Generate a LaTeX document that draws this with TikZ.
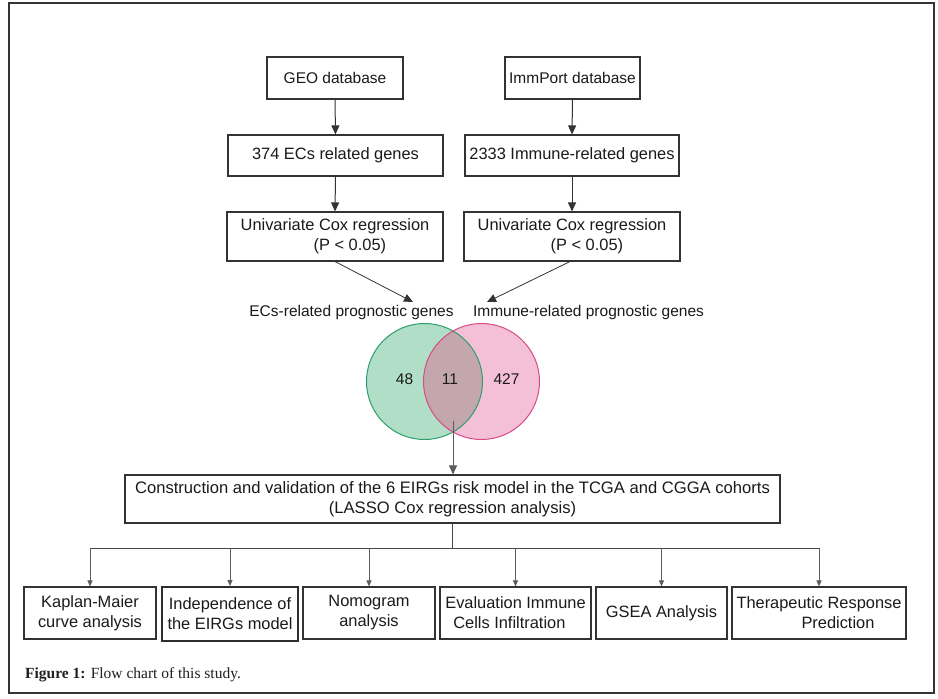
\documentclass[tikz,border=0pt]{standalone}
\usepackage{fontspec}
\setmainfont{Liberation Sans}
\newfontfamily\capfont{Liberation Serif}
\usetikzlibrary{arrows.meta}
\definecolor{linec}{HTML}{333333}
\definecolor{txtc}{HTML}{1A1A1A}
\definecolor{greenfill}{HTML}{B0DEC6}
\definecolor{pinkfill}{HTML}{F4C0D8}
\definecolor{overlapfill}{HTML}{C3A7AD}
\definecolor{greenline}{HTML}{2E9E6E}
\definecolor{pinkline}{HTML}{D64B88}
\definecolor{capc}{HTML}{231F20}
\tikzset{
  flowbox/.style={draw=linec, line width=1.1pt, inner sep=0pt, text=txtc,
    font=\fontsize{16.4}{20}\selectfont, align=center},
  smallfont/.style={font=\fontsize{15.5}{20}\selectfont},
  lbl/.style={inner sep=0pt, text=txtc, font=\fontsize{15.5}{20}\selectfont},
  bigarrow/.style={draw=linec, line width=1pt, -{Triangle[width=8pt,length=9pt]}},
  smallarrow/.style={draw=linec!80, line width=1pt, -{Triangle[width=5pt,length=6pt]}},
  plainline/.style={draw=linec!90, line width=1pt},
}
\begin{document}
\begin{tikzpicture}[x=1pt,y=-1pt]
\useasboundingbox (0,0) rectangle (938,699);
\fill[white] (0,0) rectangle (938,699);
% outer frame
\draw[linec, line width=1.5pt] (9,3) rectangle (934,693);

% top boxes
\node[flowbox, smallfont, minimum width=136pt, minimum height=42pt] (geo) at (335,78) {GEO database};
\node[flowbox, minimum width=215pt, minimum height=41pt] (ecs) at (335.5,155.5) {374 ECs related genes};
\node[flowbox, minimum width=216pt, minimum height=49pt, align=left] (univL) at (335,236.5)
  {Univariate Cox regression\\\hspace*{73pt}(P < 0.05)};
\node[flowbox, smallfont, minimum width=135pt, minimum height=42pt] (imm) at (572.5,78) {ImmPort database};
\node[flowbox, minimum width=214pt, minimum height=41pt] (imm2333) at (572,155.5) {2333 Immune-related genes};
\node[flowbox, minimum width=216pt, minimum height=49pt, align=left] (univR) at (572,236.5)
  {Univariate Cox regression\\\hspace*{73pt}(P < 0.05)};

\draw[bigarrow] (geo.south) -- (ecs.north);
\draw[bigarrow] (ecs.south) -- (univL.north);
\draw[bigarrow] (imm.south) -- (imm2333.north);
\draw[bigarrow] (imm2333.south) -- (univR.north);

% labels
\node[lbl] (ecsl) at (351.5,312) {ECs-related prognostic genes};
\node[lbl] (imml) at (588.5,312) {Immune-related prognostic genes};
\coordinate (tipL) at (413,302);
\coordinate (tipR) at (487,302);
\draw[bigarrow, line width=0.8pt] (univL.south) -- (tipL);
\draw[bigarrow, line width=0.8pt] (univR.south -| 570,0) -- (tipR);

% Venn
\coordinate (gc) at (424.5,381.5);
\coordinate (pc) at (481.5,381.5);
\fill[greenfill] (gc) circle[radius=58pt];
\fill[pinkfill] (pc) circle[radius=58pt];
\begin{scope}
  \clip (gc) circle[radius=58pt];
  \fill[overlapfill] (pc) circle[radius=58pt];
\end{scope}
\draw[greenline, line width=1pt] (gc) circle[radius=58pt];
\draw[pinkline, line width=1pt] (pc) circle[radius=58pt];
\node[lbl] (n48) at (404.5,379) {48};
\node[lbl] (n11) at (450,379) {11};
\node[lbl] (n427) at (506.5,379) {427};
\coordinate (vstart) at (453,421);

% main box
\node[flowbox, font=\fontsize{16.6}{20}\selectfont, minimum width=655pt, minimum height=48pt] (main) at (452.5,499)
  {Construction and validation of the 6 EIRGs risk model in the TCGA and CGGA cohorts\\(LASSO Cox regression analysis)};
\draw[bigarrow, draw=linec!80] (vstart) -- (main.north -| vstart);

% bottom boxes
\node[flowbox, minimum width=132pt, minimum height=52pt] (b1) at (90,613) {Kaplan-Maier\\curve analysis};
\node[flowbox, minimum width=136pt, minimum height=54pt, line width=2pt, draw=linec!90!black] (b2) at (230,614) {Independence of\\the EIRGs model};
\node[flowbox, minimum width=132pt, minimum height=52pt] (b3) at (369,613) {Nomogram\\analysis};
\node[flowbox, minimum width=151pt, minimum height=52pt, align=left] (b4) at (515.5,613) {Evaluation Immune\\\hspace*{8pt}Cells Infiltration};
\node[flowbox, minimum width=131pt, minimum height=52pt] (b5) at (661.5,613) {GSEA Analysis};
\node[flowbox, minimum width=174pt, minimum height=52pt, align=left] (b6) at (819,613) {Therapeutic Response\\\hspace*{65pt}Prediction};

% bus
\coordinate (bus) at (452.5,548);
\draw[plainline] (main.south) -- (bus);
\draw[plainline] (b1.north |- bus) -- (b6.north |- bus);
\foreach \b in {b1,b2,b3,b4,b5,b6}{
  \draw[smallarrow] (\b.north |- bus) -- (\b.north);
}

% caption
\node[anchor=west, inner sep=0pt, text=capc, font=\capfont\fontsize{15.5}{18}\selectfont] (cap) at (25,675)
  {\textbf{Figure 1:} Flow chart of this study.};
\end{tikzpicture}
\end{document}
